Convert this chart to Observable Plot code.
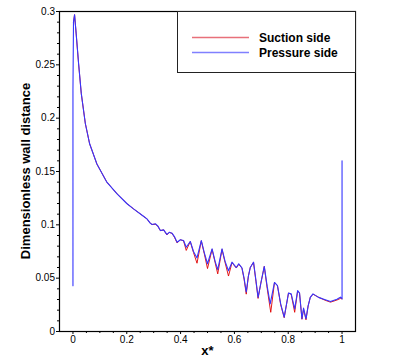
<!DOCTYPE html>
<html>
<head>
<meta charset="utf-8">
<script src="https://cdn.jsdelivr.net/npm/d3@7"></script>
<script src="https://cdn.jsdelivr.net/npm/@observablehq/plot@0.6"></script>
<style>
  html, body { margin: 0; padding: 0; background: white; }
  #wrap { position: relative; width: 411px; height: 360px; font-family: "Liberation Sans", Arial, sans-serif; }
  #legend { position: absolute; left: 177px; top: 11px; width: 177px; height: 60px; border: 1px solid #222; background: white; box-sizing: content-box; }
</style>
</head>
<body>
<div id="wrap"></div>
<script>
// ---- data ----
const seriesNames = ["Suction side", "Pressure side"];
const seriesColors = ["#e00000", "#3535ff"];
const legendColors = ["#e8707a", "#8080ff"];

const suctionX = [0.002, 0.006, 0.012, 0.021, 0.031, 0.046, 0.062, 0.089, 0.126, 0.164, 0.2, 0.225, 0.262, 0.275, 0.287, 0.294, 0.306, 0.315, 0.325, 0.337, 0.349, 0.358, 0.368, 0.377, 0.387, 0.399, 0.411, 0.421, 0.436, 0.448, 0.461, 0.477, 0.488, 0.5, 0.517, 0.528, 0.538, 0.554, 0.565, 0.578, 0.591, 0.607, 0.616, 0.628, 0.636, 0.644, 0.652, 0.659, 0.671, 0.68, 0.688, 0.698, 0.711, 0.722, 0.735, 0.749, 0.76, 0.772, 0.785, 0.801, 0.811, 0.824, 0.835, 0.842, 0.851, 0.857, 0.866, 0.874, 0.882, 0.892, 0.913, 0.935, 0.957, 0.981, 0.994, 1.0];
const suctionY = [0.29, 0.297, 0.279, 0.251, 0.223, 0.195, 0.176, 0.157, 0.140, 0.129, 0.12, 0.115, 0.108, 0.1056, 0.1016, 0.1003, 0.1005, 0.099, 0.0945, 0.0953, 0.0905, 0.093, 0.092, 0.0885, 0.083, 0.086, 0.085, 0.076, 0.0844, 0.074, 0.064, 0.085, 0.073, 0.059, 0.077, 0.065, 0.054, 0.077, 0.065, 0.052, 0.0645, 0.0595, 0.063, 0.0595, 0.049, 0.035, 0.052, 0.060, 0.065, 0.047, 0.031, 0.045, 0.061, 0.04, 0.018, 0.046, 0.043, 0.025, 0.013, 0.036, 0.035, 0.018, 0.038, 0.036, 0.0115, 0.021, 0.011, 0.024, 0.032, 0.035, 0.032, 0.0295, 0.0275, 0.0295, 0.031, 0.0306];

const pressureX = [0, 0, 0.002, 0.006, 0.012, 0.021, 0.031, 0.046, 0.062, 0.089, 0.126, 0.164, 0.2, 0.225, 0.262, 0.275, 0.287, 0.294, 0.306, 0.315, 0.325, 0.337, 0.349, 0.358, 0.368, 0.377, 0.387, 0.399, 0.411, 0.421, 0.436, 0.448, 0.461, 0.477, 0.488, 0.5, 0.517, 0.528, 0.538, 0.554, 0.565, 0.578, 0.591, 0.607, 0.616, 0.628, 0.636, 0.644, 0.652, 0.659, 0.671, 0.68, 0.688, 0.698, 0.711, 0.722, 0.733, 0.749, 0.76, 0.772, 0.785, 0.801, 0.811, 0.824, 0.835, 0.842, 0.851, 0.857, 0.866, 0.874, 0.882, 0.892, 0.913, 0.935, 0.957, 0.981, 0.994, 1.0, 1.0, 1.0];
const pressureY = [0.043, 0.226, 0.29, 0.297, 0.279, 0.251, 0.223, 0.195, 0.176, 0.157, 0.140, 0.129, 0.12, 0.115, 0.108, 0.1056, 0.1016, 0.1003, 0.101, 0.099, 0.0947, 0.0953, 0.091, 0.093, 0.0922, 0.089, 0.0837, 0.086, 0.0853, 0.079, 0.0844, 0.075, 0.069, 0.0853, 0.074, 0.0635, 0.0775, 0.066, 0.058, 0.0775, 0.066, 0.057, 0.065, 0.060, 0.0635, 0.0597, 0.05, 0.037, 0.052, 0.060, 0.065, 0.048, 0.032, 0.045, 0.061, 0.042, 0.026, 0.046, 0.043, 0.026, 0.0134, 0.036, 0.0353, 0.0212, 0.0384, 0.036, 0.0119, 0.022, 0.0119, 0.024, 0.032, 0.0353, 0.032, 0.030, 0.0281, 0.0303, 0.0322, 0.0306, 0.046, 0.16];

const xTickValues = [0, 0.2, 0.4, 0.6, 0.8, 1];
const xTickLabels = ["0", "0.2", "0.4", "0.6", "0.8", "1"];
const yTickValues = [0, 0.05, 0.1, 0.15, 0.2, 0.25, 0.3];
const yTickLabels = ["0", "0.05", "0.1", "0.15", "0.2", "0.25", "0.3"];
const xTitle = "x*";
const yTitle = "Dimensionless wall distance";

// ---- build ----
const suction = suctionX.map((x, i) => ({x, y: suctionY[i]}));
const pressure = pressureX.map((x, i) => ({x, y: pressureY[i]}));

const xMinor = d3.range(0, 21).map(i => i * 0.05).filter(v => !xTickValues.some(t => Math.abs(t - v) < 1e-9));
const yMinor = d3.range(0, 31).map(i => i * 0.01).filter(v => !yTickValues.some(t => Math.abs(t - v) < 1e-9));

const chart = Plot.plot({
  width: 411,
  height: 360,
  marginLeft: 59,
  marginRight: 56,
  marginTop: 11,
  marginBottom: 29,
  style: {fontFamily: "'Liberation Sans', Arial, sans-serif", fontSize: "10px", background: "white", color: "black", overflow: "visible"},
  x: {domain: [-0.05, 1.05]},
  y: {domain: [0, 0.3]},
  marks: [
    Plot.axisX({ticks: xMinor, tickSize: 2, text: null, label: null}),
    Plot.axisX({ticks: xTickValues, tickSize: 3, tickPadding: 1, tickFormat: d => xTickLabels[xTickValues.indexOf(d)], label: null}),
    Plot.axisY({ticks: yMinor, tickSize: 2, text: null, label: null}),
    Plot.axisY({ticks: yTickValues, tickSize: 3, tickPadding: 1.5, tickFormat: d => yTickLabels[yTickValues.indexOf(d)], label: null}),
    Plot.line(suction, {x: "x", y: "y", stroke: seriesColors[0], strokeWidth: 0.9}),
    Plot.line(pressure, {x: "x", y: "y", stroke: seriesColors[1], strokeWidth: 1.1}),
    Plot.frame({stroke: "black", strokeWidth: 1.2}),
    Plot.text([xTitle], {frameAnchor: "bottom", dy: 19, text: d => d, fontWeight: "bold", fontSize: 13, lineAnchor: "middle"}),
    Plot.text([yTitle], {frameAnchor: "left", dx: -34, dy: -0.5, text: d => d, rotate: -90, textAnchor: "middle", lineAnchor: "middle", fontWeight: "bold", fontSize: 13})
  ]
});

const wrap = document.getElementById("wrap");
wrap.appendChild(chart);

// legend overlay
const legend = document.createElement("div");
legend.id = "legend";
const ls = d3.create("svg").attr("width", 177).attr("height", 60);
seriesNames.forEach((name, i) => {
  const cy = 25.5 + i * 15;
  ls.append("line").attr("x1", 14).attr("x2", 71).attr("y1", cy).attr("y2", cy)
    .style("stroke", legendColors[i]).style("stroke-width", "1.5px");
  ls.append("text").attr("x", 81).attr("y", cy + 4.3).text(name)
    .style("font-family", "'Liberation Sans', Arial, sans-serif").style("font-weight", "bold").style("font-size", "12px").style("fill", "black");
});
legend.appendChild(ls.node());
wrap.appendChild(legend);
</script>
</body>
</html>
